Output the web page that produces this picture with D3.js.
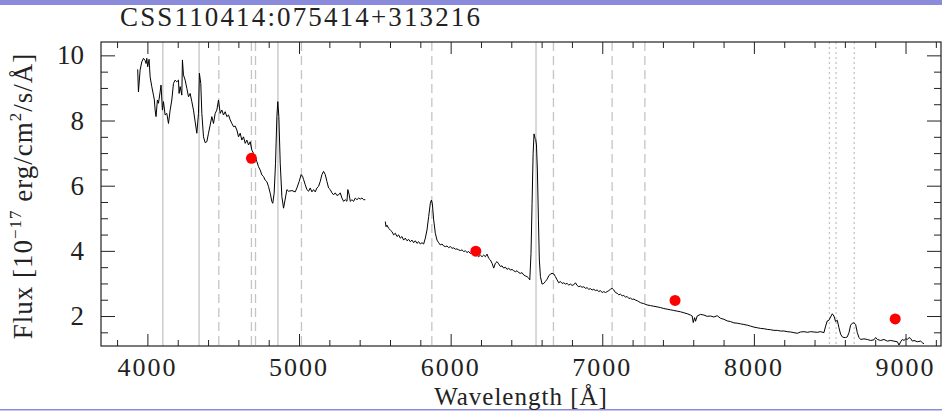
<!DOCTYPE html>
<html><head><meta charset="utf-8">
<script src="https://cdn.jsdelivr.net/npm/d3@7"></script>
<style>html,body{margin:0;padding:0;background:#fff;}svg{display:block;}</style>
</head><body>
<script>
const title = "CSS110414:075414+313216";
const xLabel = "Wavelength [Å]";
const xMajor = [4000, 5000, 6000, 7000, 8000, 9000];
const yMajor = [2, 4, 6, 8, 10];

const blueWave = [3936,3941,3952,3963,3974,3985,3991,3996,4002,4011,4018,4029,4040,4046,4051,4057,4066,4073,4084,4090,4099,4106,4117,4128,4139,4150,4161,4172,4183,4194,4205,4209,4216,4227,4231,4238,4249,4260,4271,4282,4293,4304,4315,4326,4337,4343,4352,4359,4370,4381,4392,4403,4414,4425,4436,4447,4458,4469,4480,4491,4502,4513,4524,4535,4546,4557,4568,4579,4590,4601,4612,4623,4634,4645,4656,4667,4678,4689,4700,4711,4722,4733,4744,4755,4766,4777,4788,4799,4810,4821,4827,4836,4845,4854,4860,4867,4876,4887,4898,4920,4931,4953,4975,4986,5001,5014,5023,5030,5041,5052,5063,5074,5085,5096,5107,5118,5129,5140,5151,5162,5173,5184,5195,5206,5217,5228,5239,5250,5261,5272,5283,5294,5305,5316,5322,5331,5338,5349,5360,5371,5382,5393,5404,5415,5426,5437];
const blueFlux = [9.57,8.88,9.55,9.80,9.91,9.84,9.75,9.91,9.65,9.88,9.34,9.04,8.78,8.63,8.32,8.12,8.63,8.53,8.88,9.09,8.32,8.58,8.17,8.22,7.91,8.32,8.63,9.14,9.24,9.19,9.24,8.83,9.04,8.78,9.86,9.40,9.24,8.99,8.73,8.83,8.58,8.32,7.96,7.61,8.22,9.45,9.14,8.22,7.50,7.32,7.35,7.61,7.86,8.12,7.91,8.22,8.32,8.63,8.22,8.32,8.17,8.27,8.12,8.17,8.02,7.91,7.81,7.83,7.71,7.50,7.61,7.40,7.50,7.30,7.40,7.25,7.35,7.09,6.99,6.89,6.74,6.58,6.48,6.33,6.28,6.17,6.12,5.97,5.77,5.51,5.46,5.77,6.69,8.12,8.58,8.12,6.69,5.66,5.31,5.88,5.83,5.85,5.81,5.93,6.13,6.34,6.29,6.19,6.03,5.88,5.83,5.93,5.81,5.88,5.81,5.93,5.98,6.13,6.34,6.44,6.34,6.13,5.93,5.88,5.78,5.72,5.78,5.70,5.72,5.78,5.62,5.52,5.57,5.52,5.88,5.72,5.52,5.57,5.52,5.62,5.57,5.62,5.59,5.62,5.57,5.57];

const redWave = [5569,5574,5580,5591,5602,5613,5624,5635,5646,5657,5668,5679,5690,5701,5712,5723,5734,5745,5756,5767,5778,5789,5800,5811,5822,5833,5844,5855,5866,5873,5879,5888,5899,5910,5921,5932,5943,5954,5965,5976,5987,5998,6009,6020,6031,6042,6053,6064,6075,6086,6097,6108,6119,6130,6141,6152,6163,6174,6185,6196,6207,6218,6229,6240,6251,6262,6273,6284,6295,6306,6317,6328,6339,6350,6361,6372,6383,6394,6405,6416,6427,6438,6449,6460,6471,6482,6493,6504,6515,6522,6530,6537,6544,6550,6557,6561,6566,6572,6579,6585,6592,6603,6614,6625,6636,6647,6658,6669,6680,6691,6702,6713,6724,6735,6746,6757,6768,6779,6790,6801,6812,6823,6834,6845,6856,6867,6878,6889,6900,6911,6922,6933,6944,6955,6966,6977,6988,6999,7010,7021,7032,7043,7054,7065,7076,7087,7098,7109,7120,7131,7142,7153,7164,7175,7186,7197,7208,7219,7230,7241,7252,7274,7296,7318,7340,7362,7384,7406,7428,7450,7472,7494,7516,7538,7560,7582,7593,7600,7609,7615,7626,7648,7670,7692,7714,7736,7758,7780,7802,7824,7846,7868,7890,7912,7934,7956,7978,8000,8022,8044,8066,8088,8110,8132,8154,8176,8198,8220,8242,8264,8286,8308,8330,8352,8374,8396,8418,8440,8462,8473,8484,8495,8506,8517,8528,8539,8550,8561,8572,8583,8594,8605,8616,8627,8638,8649,8660,8671,8682,8693,8704,8726,8748,8770,8792,8803,8814,8836,8858,8880,8902,8924,8946,8957,8968,8979,8990,9001,9012,9023,9034,9045,9056,9078,9100,9111,9122];
const redFlux = [4.90,4.74,4.79,4.69,4.64,4.59,4.49,4.54,4.44,4.49,4.39,4.44,4.33,4.39,4.31,4.35,4.28,4.33,4.25,4.31,4.23,4.28,4.21,4.25,4.21,4.39,4.64,5.05,5.46,5.56,5.46,4.95,4.54,4.33,4.25,4.18,4.21,4.15,4.13,4.15,4.10,4.13,4.08,4.09,4.05,4.06,4.03,4.01,4.03,3.98,4.00,3.95,3.98,3.92,3.95,3.90,3.92,3.87,3.82,3.87,3.82,3.87,3.82,3.90,3.77,3.72,3.62,3.47,3.62,3.67,3.60,3.52,3.54,3.47,3.50,3.43,3.47,3.41,3.43,3.39,3.36,3.39,3.33,3.31,3.33,3.26,3.23,3.21,3.16,3.11,3.92,5.46,6.99,7.59,7.45,7.42,7.25,6.48,4.95,3.72,3.21,2.98,3.00,3.06,3.13,3.23,3.29,3.31,3.29,3.21,3.11,3.02,3.06,3.00,3.02,2.98,3.00,2.95,2.98,2.94,2.96,3.02,2.94,2.90,2.92,2.88,2.90,2.85,2.87,2.82,2.84,2.80,2.82,2.78,2.80,2.75,2.78,2.72,2.75,2.72,2.75,2.78,2.82,2.85,2.80,2.72,2.70,2.65,2.67,2.62,2.63,2.58,2.60,2.54,2.55,2.51,2.52,2.49,2.47,2.44,2.41,2.38,2.34,2.32,2.30,2.28,2.26,2.23,2.21,2.19,2.17,2.15,2.13,2.10,2.07,2.03,2.00,1.80,1.95,1.84,2.00,2.05,2.03,1.99,2.00,1.97,2.01,1.93,1.90,1.85,1.83,1.79,1.78,1.76,1.74,1.72,1.69,1.66,1.64,1.62,1.61,1.59,1.58,1.56,1.56,1.54,1.54,1.52,1.51,1.49,1.47,1.51,1.52,1.50,1.52,1.51,1.50,1.52,1.49,1.69,1.85,1.87,1.97,2.07,2.00,1.83,1.87,1.64,1.44,1.36,1.34,1.34,1.36,1.49,1.72,1.78,1.79,1.74,1.49,1.34,1.28,1.30,1.28,1.25,1.27,1.34,1.28,1.25,1.28,1.23,1.25,1.23,1.21,1.11,1.21,1.28,1.25,1.30,1.28,1.34,1.31,1.23,1.25,1.21,1.23,1.18,1.15];

const photWave = [4686, 6166, 7480, 8932];
const photFlux = [6.84, 3.99, 2.48, 1.91];

const solidLines = [4102, 4341, 4861, 6563];
const dashedLines = [4471, 4686, 4713, 5016, 5876, 6678, 7065, 7281];
const dottedLines = [8498, 8542, 8662];

const W = 942, H = 413;
const L = 101, R = 941, T = 42, B = 346;
const font = "'Liberation Serif', 'Times New Roman', serif";
const ink = "#222";

const svg = d3.select("body").append("svg").attr("width", W).attr("height", H);
svg.append("rect").attr("width", W).attr("height", H).attr("fill", "#fff");
svg.append("rect").attr("x", 0).attr("y", 0).attr("width", W).attr("height", 5).attr("fill", "#8b8bdc");
svg.append("rect").attr("x", 0).attr("y", 409).attr("width", W).attr("height", 1.5).attr("fill", "#8b8bdc");

const x = d3.scaleLinear().domain([3694, 9234]).range([L, R]);
const y = d3.scaleLinear().domain([1.08, 10.41]).range([B, T]);

const clipId = "plotclip";
svg.append("clipPath").attr("id", clipId).append("rect").attr("x", L).attr("y", T).attr("width", R - L).attr("height", B - T);
const plot = svg.append("g").attr("clip-path", `url(#${clipId})`);

function vlines(arr, dash) {
  plot.selectAll(null).data(arr).enter().append("line")
    .attr("x1", d => x(d)).attr("x2", d => x(d)).attr("y1", T).attr("y2", B)
    .attr("stroke", "#c4c4c4").attr("stroke-width", 1.3)
    .attr("stroke-dasharray", dash);
}
vlines(solidLines, null);
vlines(dashedLines, "9,5");
vlines(dottedLines, "2,3");

const line = d3.line().x(d => x(d[0])).y(d => y(d[1]));
plot.append("path").datum(d3.zip(blueWave, blueFlux)).attr("d", line)
  .attr("fill", "none").attr("stroke", "#000").attr("stroke-width", 1);
plot.append("path").datum(d3.zip(redWave, redFlux)).attr("d", line)
  .attr("fill", "none").attr("stroke", "#000").attr("stroke-width", 1);

plot.selectAll(null).data(d3.zip(photWave, photFlux)).enter().append("circle")
  .attr("cx", d => x(d[0])).attr("cy", d => y(d[1])).attr("r", 5.5).attr("fill", "#ff0000");

// axes (inward ticks on all four sides)
const xMinor = d3.range(3800, 9201, 200).filter(v => !xMajor.includes(v));
const yMinor = d3.range(1.5, 10.01, 0.5).filter(v => !yMajor.includes(v));
function addAxis(gen, tr, vals, size) {
  const g = svg.append("g").attr("transform", tr)
    .call(gen.tickValues(vals).tickSize(size).tickFormat(""));
  g.select(".domain").remove();
  g.selectAll(".tick line").attr("stroke", ink).attr("stroke-width", 1);
  return g;
}
addAxis(d3.axisBottom(x), `translate(0,${B})`, xMajor, -12);
addAxis(d3.axisBottom(x), `translate(0,${B})`, xMinor, -6);
addAxis(d3.axisTop(x), `translate(0,${T})`, xMajor, -12);
addAxis(d3.axisTop(x), `translate(0,${T})`, xMinor, -6);
addAxis(d3.axisLeft(y), `translate(${L},0)`, yMajor, -14);
addAxis(d3.axisLeft(y), `translate(${L},0)`, yMinor, -7);
addAxis(d3.axisRight(y), `translate(${R},0)`, yMajor, -14);
addAxis(d3.axisRight(y), `translate(${R},0)`, yMinor, -7);

svg.append("rect").attr("x", L).attr("y", T).attr("width", R - L).attr("height", B - T)
  .attr("fill", "none").attr("stroke", ink).attr("stroke-width", 1.2);

// tick labels
svg.selectAll(null).data(xMajor).enter().append("text")
  .attr("x", d => x(d)).attr("y", 376).attr("text-anchor", "middle")
  .attr("font-family", font).attr("font-size", 26).attr("fill", ink)
  .attr("letter-spacing", 2).text(d => d);
svg.selectAll(null).data(yMajor).enter().append("text")
  .attr("x", 84).attr("y", d => y(d) + 9).attr("text-anchor", "end")
  .attr("font-family", font).attr("font-size", 27).attr("fill", ink)
  .text(d => d);

// title
svg.append("text").attr("x", 120).attr("y", 26).attr("font-family", font)
  .attr("font-size", 27).attr("fill", ink).attr("textLength", 360)
  .attr("lengthAdjust", "spacing").text(title);

// x label
svg.append("text").attr("x", (L + R) / 2).attr("y", 405).attr("text-anchor", "middle")
  .attr("font-family", font).attr("font-size", 25).attr("fill", ink)
  .attr("letter-spacing", 1).text(xLabel);

// y label
const yl = svg.append("text").attr("transform", `translate(32,${(T + B) / 2 + 2}) rotate(-90)`)
  .attr("text-anchor", "middle").attr("font-family", font).attr("font-size", 27)
  .attr("fill", ink).attr("letter-spacing", 1);
yl.append("tspan").text("Flux [10");
yl.append("tspan").attr("dy", -11).attr("font-size", 17).text("−17");
yl.append("tspan").attr("dy", 11).text(" erg/cm");
yl.append("tspan").attr("dy", -11).attr("font-size", 17).text("2");
yl.append("tspan").attr("dy", 11).text("/s/Å]");
</script>
</body></html>
